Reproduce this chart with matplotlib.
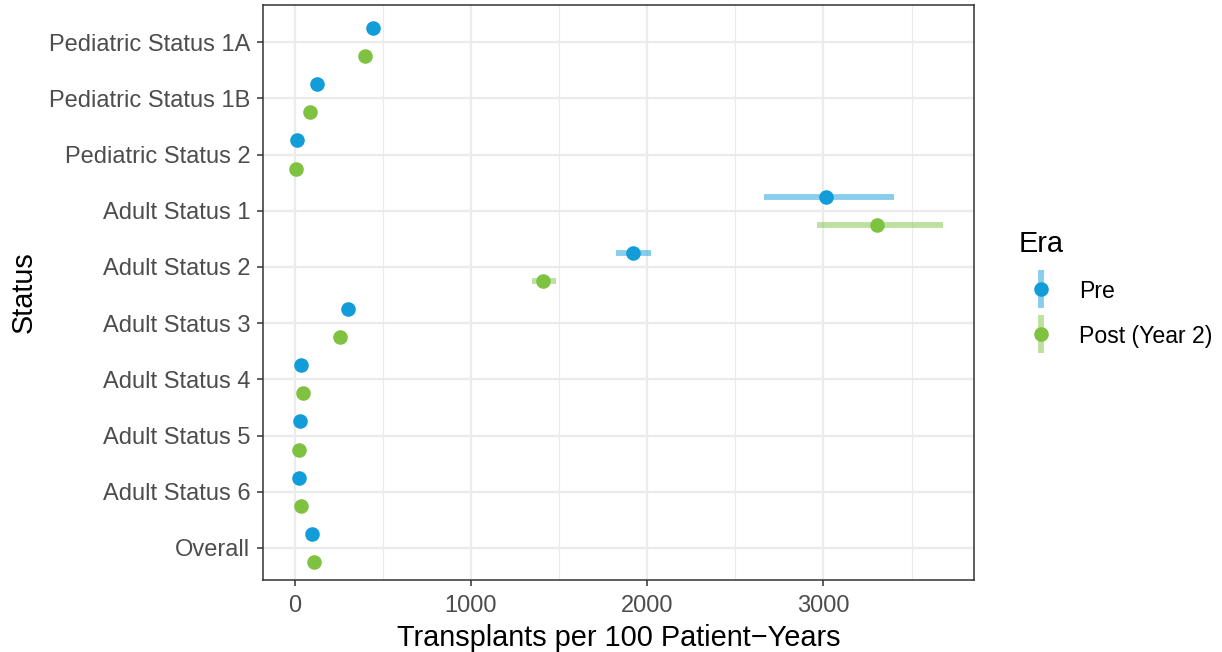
import numpy as np
import matplotlib.pyplot as plt
from matplotlib.lines import Line2D
from matplotlib.legend_handler import HandlerTuple

plt.rcParams['font.family'] = ['Liberation Sans', 'DejaVu Sans']

statuses = ['Pediatric Status 1A', 'Pediatric Status 1B', 'Pediatric Status 2',
            'Adult Status 1', 'Adult Status 2', 'Adult Status 3', 'Adult Status 4',
            'Adult Status 5', 'Adult Status 6', 'Overall']

pre_rate = [444, 129, 13, 3013, 1918, 302, 35, 31, 24, 99]
pre_lo = [420, 115, 8, 2663, 1822, 285, 30, 27, 20, 95]
pre_hi = [468, 143, 18, 3399, 2020, 319, 40, 35, 28, 103]

post_rate = [397, 89, 6, 3304, 1411, 260, 46, 26, 35, 111]
post_lo = [370, 75, 3, 2964, 1345, 240, 40, 22, 30, 106]
post_hi = [424, 103, 9, 3677, 1482, 280, 52, 30, 40, 116]

eras = ['Pre', 'Post (Year 2)']
colors = ['#129CD9', '#7FC241']

fig = plt.figure(figsize=(12.22, 6.52), dpi=100)
ax = fig.add_axes([263 / 1222, 72 / 652, 711 / 1222, 575 / 652])

n = len(statuses)
ypos = np.arange(n)
offsets = [-0.25, 0.25]
series = [(pre_rate, pre_lo, pre_hi), (post_rate, post_lo, post_hi)]

handles = []
for (rate, lo, hi), col, off, lab in zip(series, colors, offsets, eras):
    rate = np.array(rate)
    y = ypos + off
    ax.hlines(y, lo, hi, color=col, alpha=0.5, lw=4.2, zorder=3)
    ax.plot(rate, y, 'o', color=col, ms=10.5, mec='none', zorder=4)
    h = (Line2D([], [], marker='|', ms=27, mew=4.2, color=col, alpha=0.5, ls=''),
         Line2D([], [], marker='o', ms=10.5, color=col, mec='none', ls=''))
    handles.append(h)

ax.set_yticks(ypos)
ax.set_yticklabels(statuses)
ax.set_ylim(n - 1 + 0.57, -0.66)
ax.set_xlim(-179, 3854)
ax.set_xticks([0, 1000, 2000, 3000])
ax.set_xticks([500, 1500, 2500, 3500], minor=True)

ax.grid(True, which='major', color='#EBEBEB', lw=1.6, zorder=0)
ax.grid(True, which='minor', axis='x', color='#EBEBEB', lw=0.8, zorder=0)
ax.set_axisbelow(True)

for s in ax.spines.values():
    s.set_color('#333333')
    s.set_linewidth(1.1)

ax.tick_params(axis='both', which='major', length=4, width=1.1, color='#333333',
               labelsize=17, labelcolor='#4D4D4D')
ax.tick_params(axis='x', which='major', pad=7)
ax.tick_params(axis='y', which='major', pad=5)
ax.tick_params(axis='x', which='minor', length=0)

ax.set_xlabel('Transplants per 100 Patient\u2212Years', fontsize=20.8, labelpad=5)
ax.set_ylabel('Status', fontsize=20.8, labelpad=8)

leg = fig.legend(handles, eras, handler_map={tuple: HandlerTuple(ndivide=1, pad=0)},
                 title='Era', loc='upper left', bbox_to_anchor=(998 / 1222, 1 - 209 / 652),
                 frameon=False, fontsize=16.6, title_fontsize=20.8,
                 handlelength=1.93, handleheight=1.0, labelspacing=0.95, handletextpad=0.7)
leg._legend_box.align = 'left'

fig.savefig('out.png', dpi=100)
